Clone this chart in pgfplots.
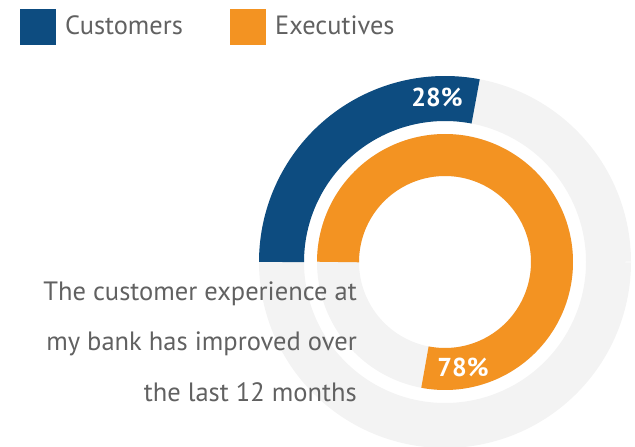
\documentclass[border=0pt]{standalone}
\usepackage{pgfplots}
\usepackage{pgfplotstable}
\pgfplotsset{compat=1.18}
\usepackage{fontspec}
\setmainfont{PT Sans}
\definecolor{cblue}{HTML}{0D4C80}
\definecolor{corange}{HTML}{F39322}
\definecolor{track}{HTML}{F3F3F3}
\definecolor{txt}{HTML}{616161}
\pgfplotstableread{
label value
Customers 28
Executives 78
}\datatable
\pgfplotstablegetelem{0}{value}\of\datatable \let\custval\pgfplotsretval
\pgfplotstablegetelem{1}{value}\of\datatable \let\execval\pgfplotsretval
\pgfmathsetmacro\custstart{180-3.6*\custval}
\pgfmathsetmacro\execstart{180-3.6*\execval}
\begin{document}
\begin{tikzpicture}
\begin{axis}[
  width=635bp, height=447bp, scale only axis,
  xmin=0, xmax=635, ymin=-447, ymax=0,
  hide axis, clip=true,
]
% gray tracks
\addplot[track, line width=45bp, domain=0:360, samples=241] ({445+163.5*cos(x)}, {-262+163.5*sin(x)});
\addplot[track, line width=42bp, domain=0:360, samples=241] ({445+107*cos(x)}, {-262+107*sin(x)});
% values
\addplot[cblue, line width=45bp, domain=\custstart:180, samples=120] ({445+163.5*cos(x)}, {-262+163.5*sin(x)});
\addplot[corange, line width=42bp, domain=\execstart:180, samples=200] ({445+107*cos(x)}, {-262+107*sin(x)});
% legend
\fill[cblue] (axis cs:20,-9) rectangle (axis cs:56,-45);
\node[anchor=base west, inner sep=0pt, text=txt, font=\fontsize{26.5}{26.5}\selectfont] at (axis cs:65,-35) {Customers};
\fill[corange] (axis cs:230,-9) rectangle (axis cs:266,-45);
\node[anchor=base west, inner sep=0pt, text=txt, font=\fontsize{26.5}{26.5}\selectfont] at (axis cs:275,-35) {Executives};
% value labels
\node[text=white, font=\fontsize{26}{26}\selectfont\bfseries] at (axis cs:437,-97) {28\%};
\node[text=white, font=\fontsize{26}{26}\selectfont\bfseries] at (axis cs:463,-367) {78\%};
% caption
\node[anchor=base east, inner sep=0pt, text=txt, font=\fontsize{26.6}{26.6}\selectfont] at (axis cs:357,-301) {The customer experience at};
\node[anchor=base east, inner sep=0pt, text=txt, font=\fontsize{26.6}{26.6}\selectfont] at (axis cs:357,-351) {my bank has improved over};
\node[anchor=base east, inner sep=0pt, text=txt, font=\fontsize{26.6}{26.6}\selectfont] at (axis cs:357,-402) {the last 12 months};
\end{axis}
\pgfresetboundingbox
\useasboundingbox (0,0) rectangle (635bp,447bp);
\end{tikzpicture}
\end{document}
